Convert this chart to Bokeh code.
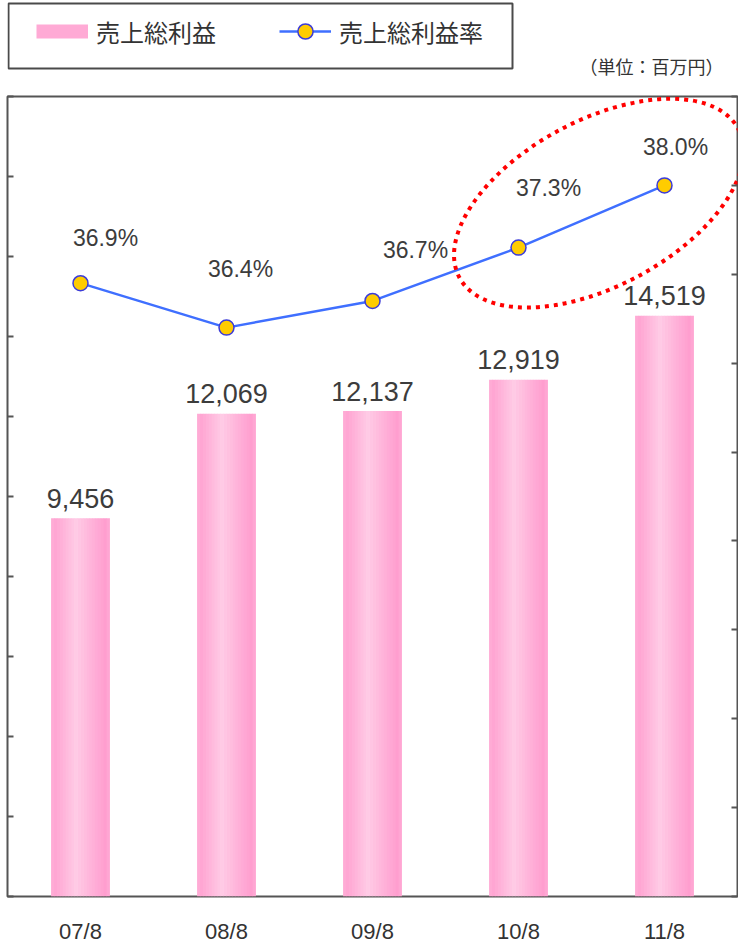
from bokeh.plotting import figure
from bokeh.layouts import column
from bokeh.models import (ColumnDataSource, FactorRange, Range1d, LinearAxis, FixedTicker,
                          Legend, LegendItem, BoxAnnotation, Label)
from bokeh.transform import dodge
from bokeh.core.properties import value
from bokeh.embed import file_html
from bokeh.resources import INLINE

# 売上総利益 (百万円) と 売上総利益率 (%)
periods = ["07/8", "08/8", "09/8", "10/8", "11/8"]
gross_profit = [9456, 12069, 12137, 12919, 14519]
gross_margin = [36.9, 36.4, 36.7, 37.3, 38.0]

# label placement for the margin values (pixels from each marker)
margin_label_dx = [25, 14, 43, 30, 11]
margin_label_dy = [-45, -59, -51, -60, -38]

LATIN = "Liberation Sans"
CJK = "Noto Sans CJK JP"
FRAME = "#555555"
BAR_PINK = "#ffaad5"
LINE_BLUE = "#3f6fff"
DOT_FILL = "#ffcc00"
DOT_EDGE = "#3c3cd8"

src = ColumnDataSource(dict(
    period=periods,
    gp=gross_profit,
    gm=gross_margin,
    gp_text=[f"{v:,}" for v in gross_profit],
    gm_text=[f"{v:.1f}%" for v in gross_margin],
    gm_dx=margin_label_dx,
    gm_dy=margin_label_dy,
))

# ---------------------------------------------------------------- header strip
# the strip's frame lines up with the chart frame (x 7..737); ranges are set so
# that positions below read as page pixels (y counted upwards from the strip bottom)
head = figure(width=738, height=95, x_range=Range1d(7, 737), y_range=Range1d(0, 95),
              x_axis_location=None, y_axis_location=None,
              output_backend="svg", toolbar_location=None,
              min_border_left=0, min_border_right=0, min_border_top=0, min_border_bottom=0,
              outline_line_color=None, background_fill_color="white",
              border_fill_color="white")
head.xgrid.visible = False
head.ygrid.visible = False

# legend keys: points parked outside the strip's visible area
key_bar = head.line(x=[-50, -40], y=[-50, -50], line_color=BAR_PINK, line_width=14)
key_line = head.line(x=[-50, -40], y=[-50, -50], line_color=LINE_BLUE, line_width=2.5)
key_dot = head.scatter(x=[-50], y=[-50], marker="circle", fill_color=DOT_FILL,
                       line_color=DOT_EDGE, line_width=1.5)

legend = Legend(items=[LegendItem(label="売上総利益", renderers=[key_bar]),
                       LegendItem(label="売上総利益率", renderers=[key_line, key_dot])],
                orientation="horizontal", location=(29, 45),
                padding=0, margin=0, spacing=63, label_standoff=8,
                glyph_width=52, glyph_height=38,
                border_line_color=None, background_fill_alpha=0,
                label_text_font=CJK, label_text_font_size="24px",
                label_text_color="#333333")
head.add_layout(legend)

head.add_layout(BoxAnnotation(left=8, right=512, bottom=27, top=92,
                              fill_alpha=0, line_color="#4a4a4a", line_alpha=1,
                              line_width=2))

head.add_layout(Label(x=723, y=30, text="（単位：百万円）",
                      text_align="right", text_baseline="middle",
                      text_font=CJK, text_font_size="18px", text_color="#333333"))

# ---------------------------------------------------------------- main chart
p = figure(width=738, height=851,
           x_range=FactorRange(factors=periods, range_padding=0),
           y_range=Range1d(0, 20000),
           output_backend="svg", toolbar_location=None,
           min_border_left=7, min_border_right=1, min_border_top=1, min_border_bottom=46,
           background_fill_color="white", border_fill_color="white",
           outline_line_color=FRAME, outline_line_width=2)
p.extra_y_ranges = {"pct": Range1d(30, 39)}
p.xgrid.visible = False
p.ygrid.visible = False


def style_value_axis(ax, ticks):
    ax.ticker = FixedTicker(ticks=ticks)
    ax.major_label_overrides = {t: "" for t in ticks}
    ax.major_tick_in = 6
    ax.major_tick_out = 0
    ax.minor_tick_in = 0
    ax.minor_tick_out = 0
    ax.axis_line_color = None
    ax.major_tick_line_color = FRAME
    ax.major_tick_line_width = 2
    ax.major_label_standoff = 0


style_value_axis(p.yaxis[0], list(range(0, 20001, 2000)))

yr = LinearAxis(y_range_name="pct")
style_value_axis(yr, list(range(30, 40)))
p.add_layout(yr, "right")

xa = p.xaxis[0]
xa.major_tick_in = 0
xa.major_tick_out = 0
xa.axis_line_color = None
xa.major_label_text_font = LATIN
xa.major_label_text_font_size = "22px"
xa.major_label_text_color = "#333333"
xa.major_label_standoff = 22

# pink bars with a soft horizontal shading, built from thin vertical strips
bar_w = 0.4
n_strips = 20
dark = (255, 150, 203)
light = (255, 202, 229)
stops = [(0.0, 0.55), (0.05, 0.25), (0.42, 1.0), (0.95, 0.12), (1.0, 0.5)]


def shade(t):
    for (t0, a0), (t1, a1) in zip(stops[:-1], stops[1:]):
        if t0 <= t <= t1:
            a = a0 + (a1 - a0) * (t - t0) / (t1 - t0)
            break
    r, g, b = (round(d + (l - d) * a) for d, l in zip(dark, light))
    return f"#{r:02x}{g:02x}{b:02x}"


step = bar_w / n_strips
for i in range(n_strips):
    off = -bar_w / 2 + (i + 0.5) * step
    p.vbar(x=dodge("period", off, range=p.x_range), top="gp", bottom=0,
           width=step * 1.15, source=src,
           fill_color=shade((i + 0.5) / n_strips), line_color=None)

p.text(x="period", y="gp", text="gp_text", source=src,
       text_align="center", text_baseline="alphabetic", y_offset=-20,
       text_font=value(LATIN), text_font_size="27px", text_color="#3c3c3c")

# gross margin line on the right-hand scale
p.line(x="period", y="gm", source=src, y_range_name="pct",
       line_color=LINE_BLUE, line_width=2.5)
p.scatter(x="period", y="gm", source=src, y_range_name="pct",
          marker="circle", size=15, fill_color=DOT_FILL,
          line_color=DOT_EDGE, line_width=1.5)

p.text(x="period", y="gm", text="gm_text", source=src, y_range_name="pct",
       x_offset="gm_dx", y_offset="gm_dy",
       text_align="center", text_baseline="middle",
       text_font=value(LATIN), text_font_size="23px", text_color="#3c3c3c")

# dotted red ring around the two latest years
hl = ColumnDataSource(dict(
    period=[periods[-2]],
    gm=[(gross_margin[-2] + gross_margin[-1]) / 2 + 0.15],
))
p.ellipse(x=dodge("period", 0.55, range=p.x_range), y="gm", source=hl,
          y_range_name="pct", width=316, height=166,
          width_units="screen", height_units="screen", angle=0.49,
          fill_color=None, line_color="#ff0000", line_width=4, line_dash="4 5")

open("out.html", "w").write(file_html(column(head, p, spacing=0), INLINE))
